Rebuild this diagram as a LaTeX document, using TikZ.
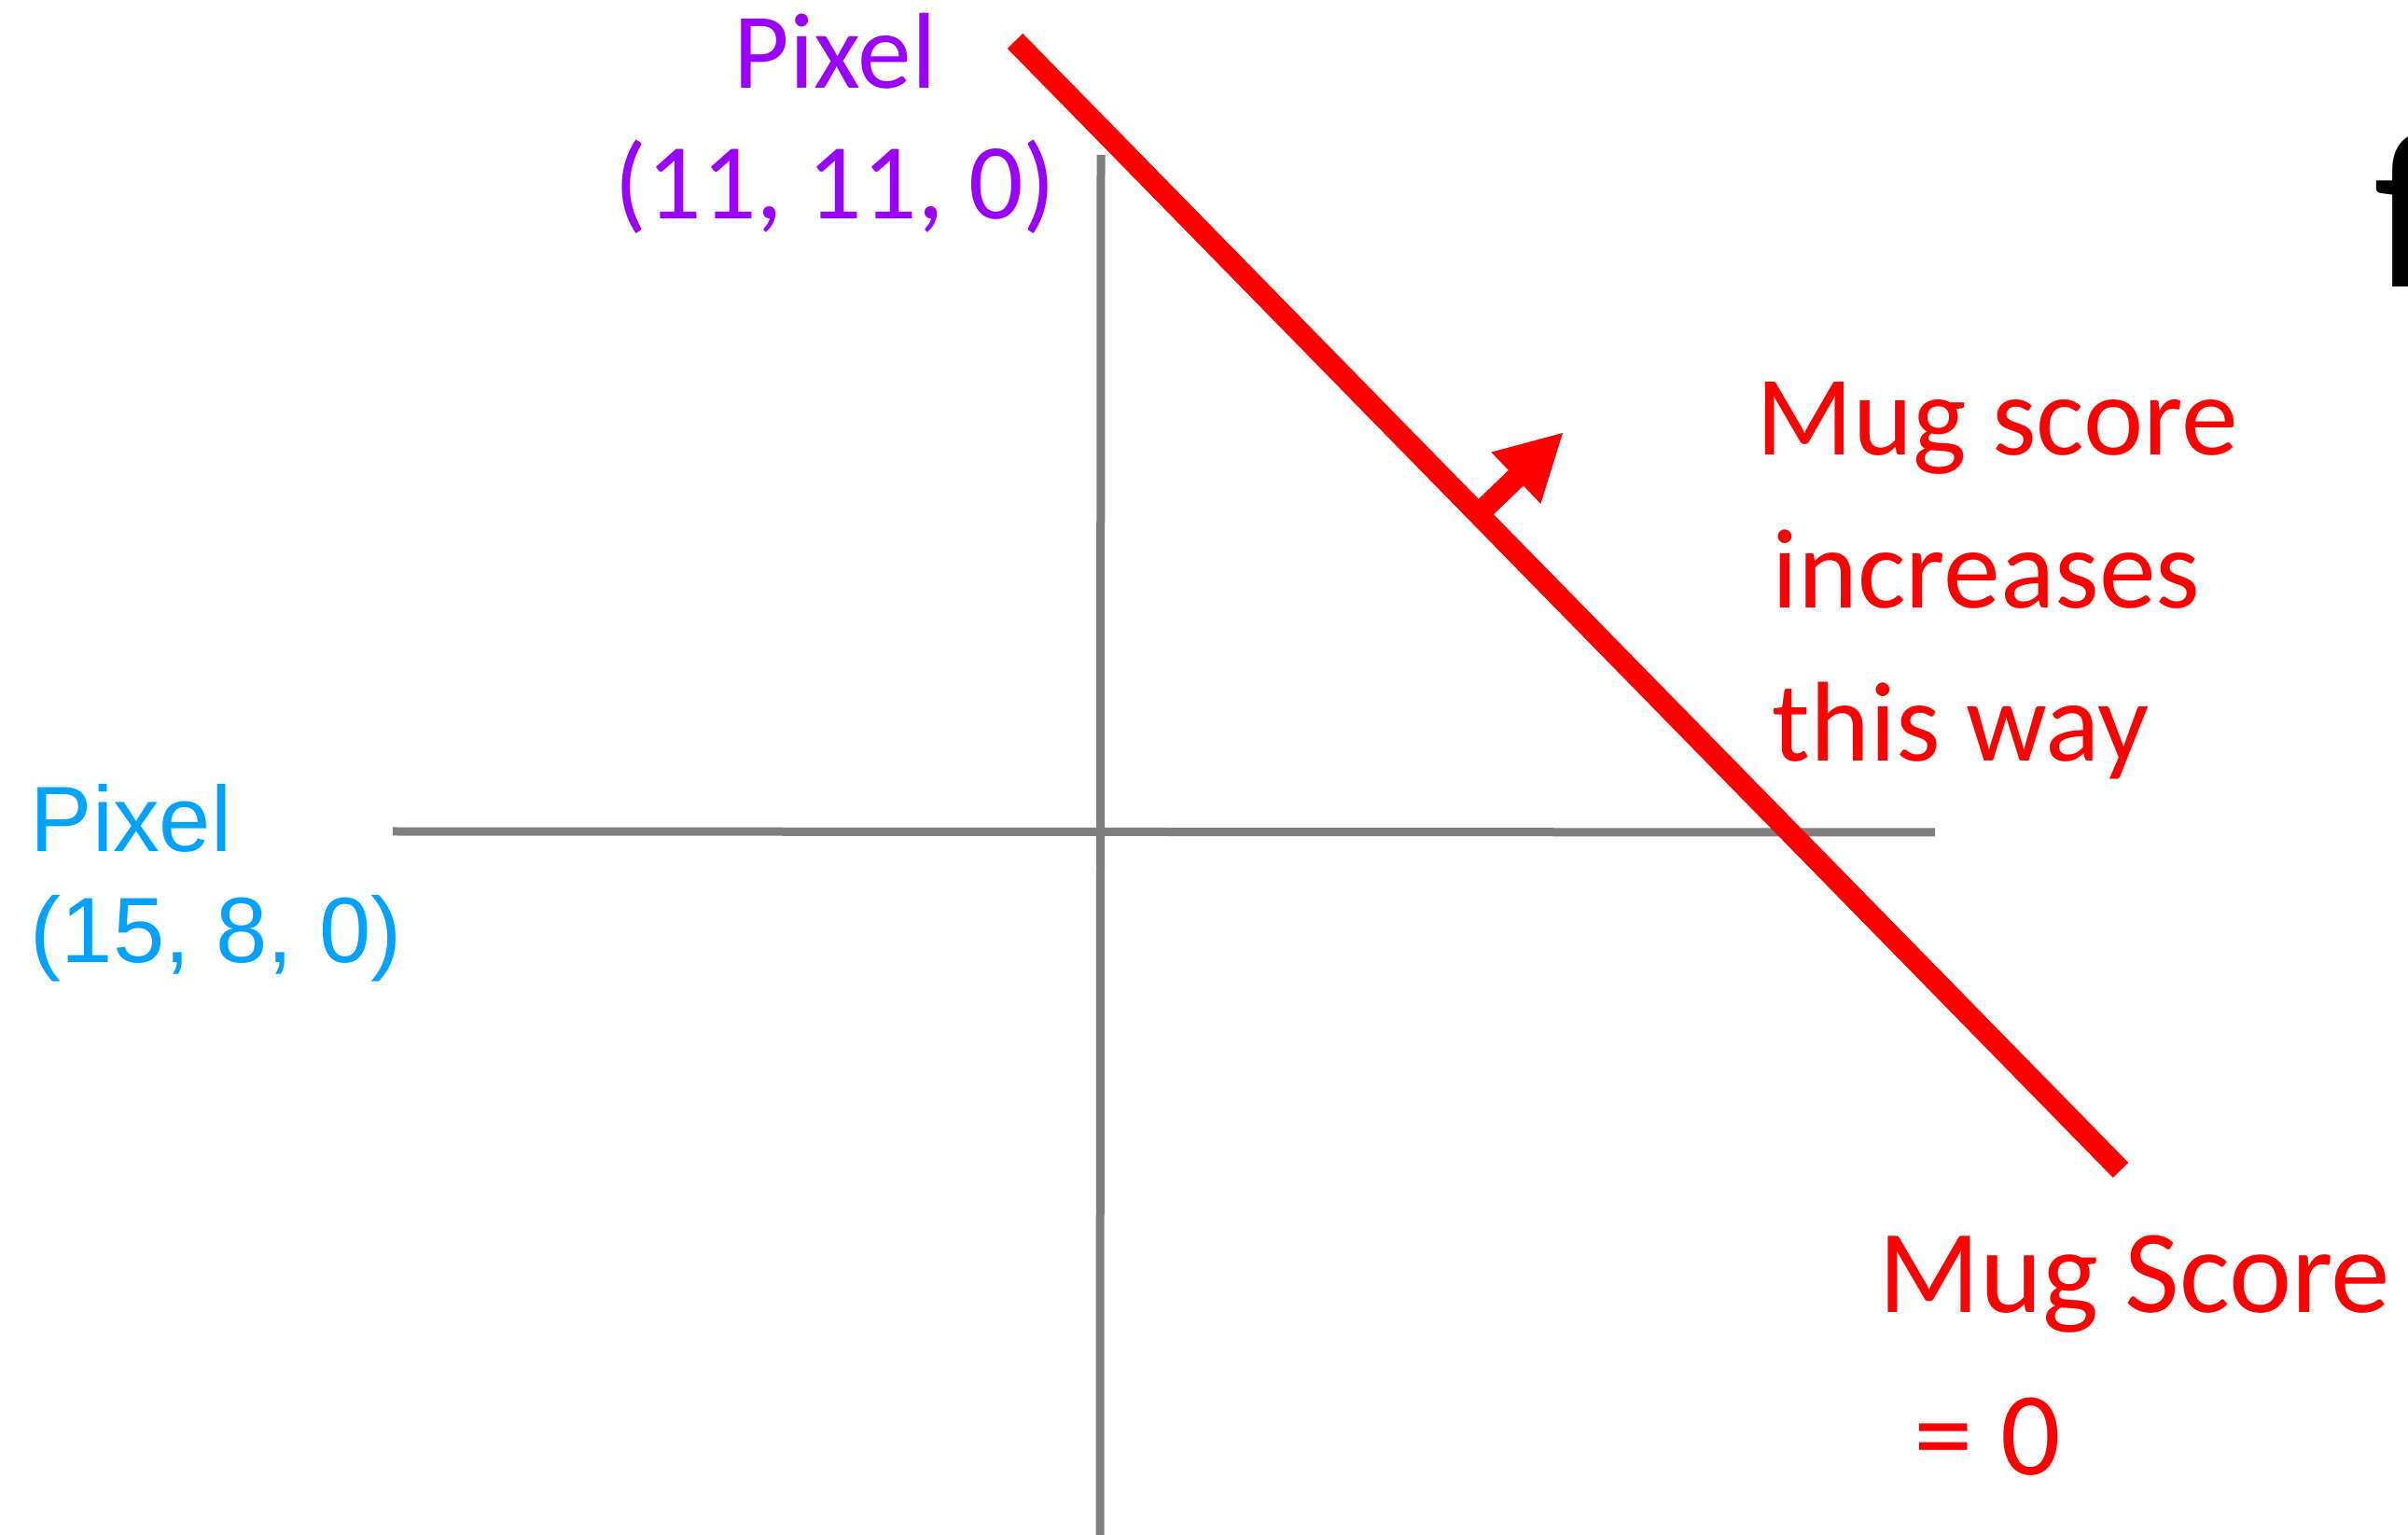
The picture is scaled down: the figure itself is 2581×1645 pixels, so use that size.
\documentclass[tikz,border=0pt]{standalone}
\usepackage{fontspec}
\usetikzlibrary{arrows.meta,positioning,calc}
\newfontfamily\carlito{Carlito}
\newfontfamily\arialish{Liberation Sans}
\definecolor{mugred}{HTML}{FF0000}
\definecolor{pixpurple}{HTML}{9900FF}
\definecolor{pixblue}{HTML}{00A2FF}
\definecolor{axisgray}{HTML}{7F7F7F}

\begin{document}
\begin{tikzpicture}[x=0.1mm,y=-0.1mm,
    axis/.style={axisgray,line width=0.9mm},
    mugline/.style={mugred,line width=2.3mm},
    lbl/.style={inner sep=0pt,align=left,anchor=base west}]
  \useasboundingbox (0,0) rectangle (2581,1645);
  \coordinate (xleft) at (421,891);
  \coordinate (xright) at (2074,892);
  \coordinate (ytop) at (1180,166);
  \coordinate (ybot) at (1179,1650);
  \draw[axis] (xleft) -- (xright);
  \draw[axis] (ytop) -- (ybot);
  \coordinate (mugtop) at (1088,44);
  \coordinate (mugbot) at (2273,1254);
  \draw[mugline] (mugtop) -- (mugbot);
  \coordinate (tail) at ($(mugtop)!0.419!(mugbot)$);
  \coordinate (tip) at (1676,463);
  \draw[mugline,-{Triangle[length=7.1mm,width=7.1mm]}] (tail) -- (tip);
  \node[lbl,align=center,anchor=base,text=pixpurple,
    font=\carlito\fontsize{32.9}{40.1}\selectfont] (pixtop) at (895,235) {Pixel\\(11, 11, 0)};
  \node[lbl,text=pixblue,font=\arialish\fontsize{28.3}{34.1}\selectfont] (pixleft) at (32,1032) {Pixel\\(15, 8, 0)};
  \node[lbl,text=mugred,font=\carlito\fontsize{34.6}{46.8}\selectfont] (mugway) at (1882,816)
    {Mug score\\\hspace*{0.14em}increases\\\hspace*{0.14em}this way};
  \node[lbl,text=mugred,font=\carlito\fontsize{36.2}{49.5}\selectfont] (mugzero) at (2013,1580) {Mug Score\\\hspace*{0.3em}= 0};
  \node[lbl,font=\carlito\fontsize{69}{78}\selectfont] (fcut) at (2544,308) {f};
\end{tikzpicture}
\end{document}
